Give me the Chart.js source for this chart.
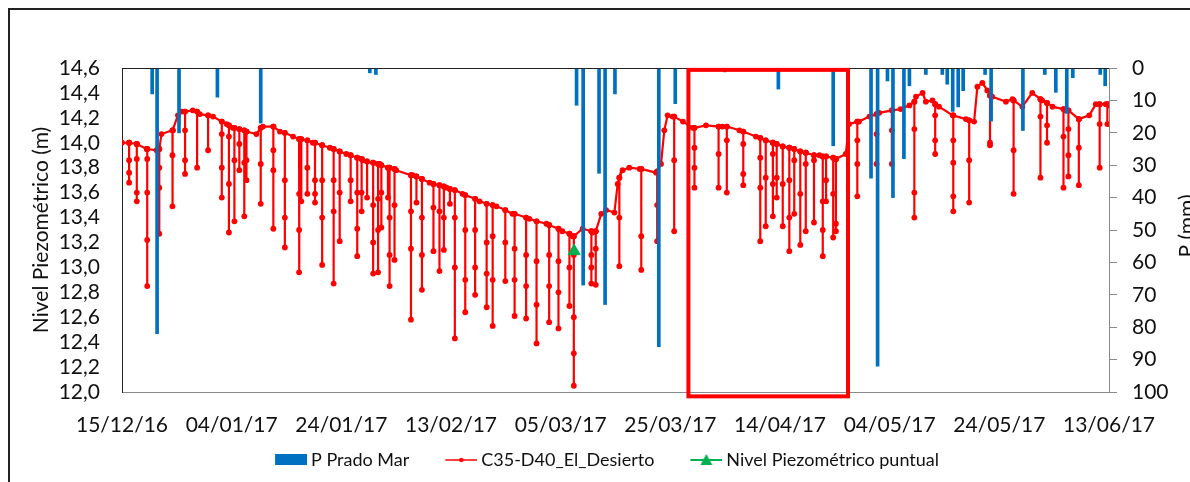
<!DOCTYPE html>
<html>
<head>
<meta charset="utf-8">
<script src="https://cdn.jsdelivr.net/npm/chart.js@4.4.1/dist/chart.umd.min.js"></script>
<style>
  html, body { margin: 0; padding: 0; background: #fff; }
  #wrap { width: 1190px; height: 482px; }
</style>
</head>
<body>
<div id="wrap"><canvas id="myChart" width="1190" height="482"></canvas></div>
<script>
// x values are days counted from 15/12/2016
const startDate = [2016, 11, 15];

// P Prado Mar (mm), right axis
const rainDays = [5.5, 6.4, 10.4, 17.4, 25.3, 45.2, 46.3, 82.9, 84.1, 87.0, 88.1, 89.9, 97.9, 100.9, 109.9,
  119.7, 129.7, 136.6, 137.8, 139.6, 140.6, 142.6, 143.6, 146.6, 149.6, 150.5, 151.5, 152.5, 153.4, 157.4,
  158.5, 164.3, 168.3, 170.3, 172.3, 173.4, 178.4, 179.3];
const rainMm = [8, 82, 20, 9, 17, 1.5, 2, 11.5, 67, 32.5, 73, 8, 86, 11, 1.2,
  6.5, 24, 34, 92, 4, 40, 28, 5.5, 2, 2, 5, 13.4, 12, 7, 2,
  16.4, 19.3, 2, 7.5, 14, 3, 2, 5.5];

// C35-D40_El_Desierto - level between the pumping drops
const levelDays = [0, 1.3, 2.7, 4.5, 6.3, 7.2, 9.3, 10.2, 10.9, 12.9, 14.2, 16.6, 19.1, 20.2, 22.7,
  24.5, 25.7, 27.6, 28.8, 31.2, 32.4, 34.8, 37.9, 40.9, 43.9, 47.0, 50.0, 53.0, 56.1, 59.2,
  62.1, 65.2, 68.3, 71.2, 74.3, 77.4, 80.3, 82.2, 84.0, 85.8, 87.4, 88.3, 89.8, 90.4, 91.3,
  92.5, 94.4, 97.4, 98.3, 98.9, 99.5, 100.4, 102.3, 104.1, 106.5, 109.5, 112.6, 115.6, 118.7, 121.7,
  124.7, 127.2, 130.2, 132.0, 132.6, 134.4, 136.3, 138.1, 140.5, 142.0, 143.6, 144.8, 146.0, 146.6, 147.8,
  149.0, 151.5, 153.9, 155.4, 156.0, 156.9, 157.8, 158.7, 161.2, 162.4, 164.2, 166.0, 167.8, 169.7, 172.1,
  174.5, 176.4, 177.6, 179.4, 180];
const levelValues = [14.00, 14.00, 13.99, 13.95, 13.94, 14.07, 14.10, 14.22, 14.25, 14.26, 14.23, 14.21, 14.15, 14.12, 14.09,
  14.07, 14.13, 14.13, 14.09, 14.05, 14.03, 14.00, 13.96, 13.91, 13.86, 13.83, 13.78, 13.74, 13.68, 13.64,
  13.59, 13.53, 13.49, 13.43, 13.39, 13.35, 13.29, 13.25, 13.31, 13.28, 13.43, 13.46, 13.44, 13.67, 13.78,
  13.80, 13.79, 13.76, 13.83, 14.10, 14.22, 14.21, 14.17, 14.12, 14.14, 14.13, 14.10, 14.05, 14.00, 13.96,
  13.92, 13.90, 13.87, 13.91, 14.15, 14.17, 14.21, 14.24, 14.26, 14.27, 14.30, 14.37, 14.40, 14.33, 14.34,
  14.29, 14.22, 14.19, 14.17, 14.45, 14.48, 14.42, 14.37, 14.33, 14.35, 14.29, 14.40, 14.34, 14.29, 14.26,
  14.19, 14.22, 14.31, 14.31, 14.30];

// pumping drops: day, level before the drop, readings on the way down
const dropDays = [1.3, 2.7, 4.6, 6.8, 9.2, 11.5, 13.7, 15.7, 18.2, 19.5, 20.5, 21.4, 22.3, 22.7, 25.3,
  27.6, 29.7, 32.3, 32.7, 33.8, 35.2, 36.5, 38.6, 39.7, 41.7, 42.9, 43.7, 44.7, 45.8, 46.7,
  47.3, 48.5, 48.8, 49.7, 52.7, 53.7, 54.7, 56.8, 57.9, 58.7, 59.8, 60.7, 62.6, 64.4, 66.5,
  67.6, 69.9, 71.6, 73.7, 75.6, 77.9, 79.6, 81.6, 82.4, 85.6, 86.4, 90.7, 94.7, 97.6, 100.7,
  104.4, 108.8, 110.3, 113.3, 116.4, 117.4, 118.7, 119.4, 120.5, 121.7, 122.6, 123.7, 124.7, 126.2, 127.8,
  128.4, 129.7, 130.2, 134.1, 137.6, 140.4, 144.5, 148.3, 151.6, 154.5, 158.3, 162.6, 167.5, 168.7, 171.7,
  172.6, 174.5, 178.3, 179.7];
const dropTops = [14.00, 13.99, 13.95, 13.95, 14.10, 14.25, 14.25, 14.22, 14.17, 14.14, 14.12, 14.11, 14.10, 14.09, 14.12,
  14.13, 14.08, 14.03, 14.03, 14.02, 14.00, 13.98, 13.95, 13.93, 13.90, 13.88, 13.87, 13.85, 13.84, 13.83,
  13.82, 13.80, 13.80, 13.79, 13.74, 13.73, 13.71, 13.67, 13.66, 13.65, 13.63, 13.62, 13.58, 13.55, 13.51,
  13.50, 13.46, 13.43, 13.40, 13.37, 13.34, 13.31, 13.27, 13.25, 13.29, 13.29, 13.72, 13.79, 13.77, 14.21,
  14.12, 14.13, 14.13, 14.09, 14.04, 14.02, 14.00, 13.99, 13.97, 13.96, 13.95, 13.93, 13.92, 13.90, 13.89,
  13.89, 13.88, 13.87, 14.17, 14.23, 14.26, 14.33, 14.31, 14.22, 14.18, 14.38, 14.34, 14.35, 14.32, 14.27,
  14.26, 14.19, 14.31, 14.31];
const dropValues = [
  [13.86, 13.76, 13.68], [13.87, 13.60, 13.53], [13.87, 13.60, 13.22, 12.85], [13.80, 13.64, 13.27], [13.90, 13.49],
  [14.10, 13.86, 13.75], [13.80], [13.94], [14.07, 13.80, 13.56], [14.05, 13.67, 13.28],
  [13.86, 13.37], [13.99, 13.78], [13.84, 13.41], [13.86, 13.70], [13.83, 13.51],
  [13.94, 13.78, 13.31], [13.70, 13.40, 13.16], [13.59, 13.30, 12.96], [13.53], [13.80, 13.59],
  [13.70, 13.59, 13.52], [13.70, 13.40, 13.02], [13.70, 13.45, 12.87], [13.60, 13.21], [13.70, 13.53],
  [13.60, 13.31, 13.09], [13.60, 13.45], [13.56], [13.50, 13.20, 12.95], [13.55, 13.30, 12.96],
  [13.60, 13.32], [13.56], [13.40, 13.10, 12.85], [13.50, 13.06], [13.45, 13.15, 12.58],
  [13.52], [13.40, 13.10, 12.82], [13.48, 13.13], [13.45, 12.97], [13.40, 13.14],
  [13.51], [13.40, 13.00, 12.43], [13.30, 12.90, 12.64], [13.30, 13.00, 12.78], [13.20, 12.95, 12.68],
  [13.25, 12.90, 12.53], [13.20, 12.89], [13.15, 12.90, 12.61], [13.10, 12.85, 12.59], [13.05, 12.70, 12.39],
  [13.10, 12.85, 12.56], [13.05, 12.80, 12.51], [13.00, 12.69], [13.10, 12.60, 12.31, 12.05], [13.10, 13.00, 12.87],
  [13.15, 12.86], [13.40, 13.01], [13.25, 12.98], [13.50, 13.21], [13.86, 13.29],
  [13.96, 13.80, 13.64], [13.91, 13.64], [14.02, 13.60], [13.99, 13.75, 13.66], [13.88, 13.64, 13.21],
  [13.72, 13.33], [13.91, 13.67, 13.41], [13.72, 13.56], [13.67, 13.33], [13.70, 13.40, 13.13],
  [13.86, 13.43], [13.59, 13.18], [13.83, 13.29], [13.86, 13.36], [13.53, 13.30, 13.09],
  [13.70, 13.53], [13.59, 13.24], [13.35, 13.29], [14.02, 13.83, 13.57], [14.07, 13.83],
  [14.10, 13.83], [14.11, 13.60, 13.40], [14.22, 14.02, 13.91], [14.02, 13.84, 13.57, 13.45], [13.86, 13.52],
  [14.00, 13.98], [13.94, 13.59], [14.21, 13.72], [14.14, 14.00], [14.05, 13.64],
  [14.11, 13.90, 13.73], [13.96, 13.66], [14.15, 13.80], [14.15]
];

// Nivel Piezométrico puntual
const spotDays = [82.45];
const spotValues = [13.13];

// highlighted period (red box)
const boxDays = [103.3, 132.4];
const boxLevels = [11.965, 14.585];

const font = 'Lato';
const ink = '#111';

let level = levelDays.map((d, i) => ({x: d, y: levelValues[i]}));
dropDays.forEach((d, i) => {
  level.push({x: d, y: dropTops[i]});
  dropValues[i].forEach(v => level.push({x: d, y: v}));
  level.push({x: d, y: dropTops[i]});
});
level.sort((a, b) => a.x - b.x);

function dayLabel(v) {
  const d = new Date(startDate[0], startDate[1], startDate[2] + v);
  const p = n => String(n).padStart(2, '0');
  return p(d.getDate()) + '/' + p(d.getMonth() + 1) + '/' + p(d.getFullYear() % 100);
}

// legend markers
function mark(kind) {
  const c = document.createElement('canvas');
  c.width = 61; c.height = 16;
  const g = c.getContext('2d');
  const x0 = 29, y = 8;
  if (kind == 'bar') {
    g.fillStyle = '#0070C0';
    g.fillRect(x0, 2, 32, 11);
  } else if (kind == 'line') {
    g.strokeStyle = 'red'; g.lineWidth = 1.5;
    g.beginPath(); g.moveTo(x0, y); g.lineTo(61, y); g.stroke();
    g.fillStyle = 'red';
    g.beginPath(); g.arc(x0 + 16, y, 2.2, 0, Math.PI * 2); g.fill();
  } else {
    g.strokeStyle = '#00B050'; g.lineWidth = 2;
    g.beginPath(); g.moveTo(x0, y); g.lineTo(61, y); g.stroke();
    g.fillStyle = '#00B050';
    g.beginPath(); g.moveTo(x0 + 16, y - 6); g.lineTo(x0 + 22, y + 5); g.lineTo(x0 + 10, y + 5); g.closePath(); g.fill();
  }
  return c;
}
const legendMarks = [mark('bar'), mark('line'), mark('tri')];

const extras = {
  id: 'extras',
  beforeDraw(chart) {
    const ctx = chart.ctx;
    ctx.save();
    ctx.strokeStyle = '#222';
    ctx.lineWidth = 2;
    ctx.beginPath();
    ctx.moveTo(9, 482); ctx.lineTo(9, 9); ctx.lineTo(1190, 9);
    ctx.stroke();
    ctx.restore();
  },
  afterDraw(chart) {
    const ctx = chart.ctx;
    const a = chart.chartArea;
    const xs = chart.scales.x, ys = chart.scales.y;
    ctx.save();
    ctx.strokeStyle = '#222';
    ctx.lineWidth = 1;
    ctx.beginPath(); ctx.moveTo(a.left, a.top + 0.5); ctx.lineTo(a.right, a.top + 0.5); ctx.stroke();
    // red box
    ctx.strokeStyle = 'red';
    ctx.lineWidth = 4;
    const x1 = xs.getPixelForValue(boxDays[0]), x2 = xs.getPixelForValue(boxDays[1]);
    const y1 = ys.getPixelForValue(boxLevels[1]), y2 = ys.getPixelForValue(boxLevels[0]);
    ctx.strokeRect(x1, y1, x2 - x1, y2 - y1);
    // right axis title, cut by the frame edge as in the original
    ctx.fillStyle = ink;
    ctx.font = '21px ' + font;
    ctx.translate(1177, (a.top + a.bottom) / 2 - 4);
    ctx.rotate(-Math.PI / 2);
    ctx.textAlign = 'center';
    ctx.textBaseline = 'top';
    ctx.fillText('P (mm)', 0, 0);
    ctx.restore();
  }
};

const ctx = document.getElementById('myChart');
new Chart(ctx, {
  type: 'bar',
  data: {
    datasets: [{
      type: 'bar',
      label: 'P Prado Mar',
      data: rainDays.map((d, i) => ({x: d, y: rainMm[i]})),
      backgroundColor: '#0070C0',
      barThickness: 3,
      grouped: false,
      yAxisID: 'y1',
      order: 0
    },
    {
      type: 'line',
      label: 'C35-D40_El_Desierto',
      data: level,
      borderColor: '#ff0000',
      backgroundColor: '#ff0000',
      borderWidth: 2.2,
      pointRadius: 2.9,
      pointBorderWidth: 0,
      tension: 0,
      yAxisID: 'y',
      order: 2
    },
    {
      type: 'line',
      label: 'Nivel Piezométrico puntual',
      data: spotDays.map((d, i) => ({x: d, y: spotValues[i]})),
      showLine: false,
      pointStyle: 'triangle',
      pointRadius: 7,
      borderColor: '#00B050',
      backgroundColor: '#00B050',
      yAxisID: 'y',
      order: 1
    }]
  },
  options: {
    responsive: false,
    animation: false,
    events: [],
    layout: { padding: { left: 0, right: 0, top: 68, bottom: 3 } },
    plugins: {
      tooltip: { enabled: false },
      legend: {
        position: 'bottom',
        labels: {
          usePointStyle: true,
          pointStyleWidth: 51,
          padding: 12,
          color: ink,
          font: { family: font, size: 18 },
          sort: (a, b) => a.datasetIndex - b.datasetIndex,
          generateLabels(chart) {
            const items = Chart.defaults.plugins.legend.labels.generateLabels(chart);
            items.forEach(it => { it.pointStyle = legendMarks[it.datasetIndex]; });
            return items;
          }
        }
      }
    },
    scales: {
      x: {
        type: 'linear',
        min: 0,
        max: 180,
        offset: false,
        grid: { display: false, drawTicks: false },
        border: { display: true, color: '#898989' },
        ticks: {
          stepSize: 20,
          autoSkip: false,
          maxRotation: 0,
          padding: 21,
          color: ink,
          font: { family: font, size: 21 },
          callback: v => dayLabel(v)
        },
        afterFit: s => { s.height = 47; }
      },
      y: {
        position: 'left',
        min: 12,
        max: 14.6,
        grid: { display: false, drawTicks: false },
        border: { color: '#222' },
        ticks: {
          stepSize: 0.2,
          autoSkip: false,
          padding: 22,
          color: ink,
          font: { family: font, size: 21 },
          callback: v => v.toFixed(1).replace('.', ',')
        },
        title: {
          display: true,
          text: 'Nivel Piezométrico (m)',
          color: ink,
          font: { family: font, size: 21 },
          padding: { top: 29, bottom: 0 }
        },
        afterFit: s => { s.width = 122; }
      },
      y1: {
        position: 'right',
        min: 0,
        max: 100,
        reverse: true,
        grid: { display: true, drawOnChartArea: false, drawTicks: true, tickLength: 8, color: '#898989' },
        border: { color: '#898989' },
        ticks: {
          stepSize: 10,
          autoSkip: false,
          padding: 15,
          color: ink,
          font: { family: font, size: 21 }
        },
        afterFit: s => { s.width = 81; }
      }
    }
  },
  plugins: [extras]
});
</script>
</body>
</html>
